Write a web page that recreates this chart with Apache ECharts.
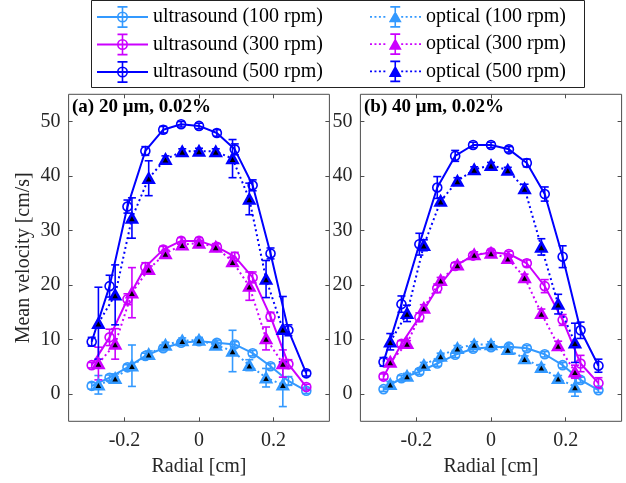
<!DOCTYPE html>
<html>
<head>
<meta charset="utf-8">
<script src="https://cdn.jsdelivr.net/npm/echarts@6/dist/echarts.min.js"></script>
<style>html,body{margin:0;padding:0;background:#fff;}#c{width:626px;height:483px;}</style>
</head>
<body>
<div id="c"></div>
<script>
// ---------- data ----------
const xUltra = [-0.288, -0.24, -0.192, -0.144, -0.096, -0.048, 0, 0.048, 0.096, 0.144, 0.192, 0.24, 0.288];
const xOpt = [-0.27, -0.225, -0.18, -0.135, -0.09, -0.045, 0, 0.045, 0.09, 0.135, 0.18, 0.225];
const xTicks = [-0.2, 0, 0.2];
const yTicks = [0, 10, 20, 30, 40, 50];
const panelTitles = ['(a) 20 μm, 0.02%', '(b) 40 μm, 0.02%'];
const seriesNames = ['ultrasound (100 rpm)', 'ultrasound (300 rpm)', 'ultrasound (500 rpm)',
                     'optical (100 rpm)', 'optical (300 rpm)', 'optical (500 rpm)'];

// panel (a)
const a_us100 = [1.5, 3.0, 4.9, 7.0, 8.4, 9.4, 9.7, 9.4, 9.1, 7.5, 5.1, 2.4, 0.6];
const a_us100Err = [0.6, 0.5, 0.5, 0.5, 0.5, 0.5, 0.5, 0.5, 0.5, 0.5, 0.5, 0.8, 0.5];
const a_us300 = [5.3, 10.4, 17.4, 23.3, 26.5, 28.1, 28.1, 27.0, 25.2, 21.4, 14.2, 5.5, 1.3];
const a_us300Err = [0.5, 1.5, 1.0, 0.8, 0.6, 0.6, 0.6, 0.6, 0.8, 1.0, 0.8, 0.8, 0.5];
const a_us500 = [9.6, 19.8, 34.4, 44.6, 48.5, 49.5, 49.2, 47.9, 44.9, 38.3, 25.8, 11.7, 3.8];
const a_us500Err = [0.8, 2.0, 1.2, 0.8, 0.6, 0.5, 0.5, 0.6, 1.0, 1.0, 1.0, 1.0, 0.5];
const a_op100 = [1.7, 2.9, 5.2, 7.3, 9.0, 9.8, 9.9, 9.0, 7.9, 5.3, 3.0, 1.7];
const a_op100Err = [1.7, 0.8, 3.8, 0.6, 0.5, 0.5, 0.5, 0.5, 3.8, 1.0, 1.7, 4.0];
const a_op300 = [5.6, 9.2, 18.6, 22.9, 25.8, 27.4, 27.7, 27.0, 24.3, 19.8, 10.2, 5.6];
const a_op300Err = [3.0, 2.8, 4.6, 0.6, 0.6, 0.5, 0.5, 0.6, 0.8, 2.6, 2.1, 2.5];
const a_op500 = [13.0, 18.2, 32.3, 39.6, 43.1, 44.5, 44.6, 44.5, 43.2, 35.8, 21.1, 11.9];
const a_op500Err = [6.6, 5.5, 3.7, 3.2, 0.6, 0.5, 0.5, 0.5, 3.5, 2.9, 3.4, 6.0];

// panel (b)
const b_us100 = [0.9, 2.9, 4.1, 5.6, 7.2, 8.3, 8.6, 8.7, 8.4, 7.3, 5.3, 2.6, 0.7];
const b_us100Err = [0.4, 0.5, 0.5, 0.5, 0.5, 0.5, 0.5, 0.5, 0.5, 0.5, 0.5, 0.5, 0.4];
const b_us300 = [3.2, 9.2, 14.1, 19.4, 23.5, 25.4, 26.0, 25.7, 24.0, 19.8, 13.6, 5.6, 2.0];
const b_us300Err = [0.5, 0.6, 0.8, 0.8, 0.6, 0.5, 0.5, 0.5, 0.6, 1.2, 1.0, 1.5, 1.0];
const b_us500 = [5.9, 16.5, 27.5, 37.9, 43.7, 45.7, 45.7, 44.9, 42.4, 36.7, 25.2, 11.7, 5.2];
const b_us500Err = [0.8, 1.5, 2.0, 2.0, 1.0, 0.5, 0.5, 0.5, 0.7, 1.3, 2.0, 1.5, 1.2];
const b_op100 = [1.8, 3.3, 5.3, 7.0, 8.4, 9.1, 9.1, 8.2, 6.5, 4.9, 2.9, 1.3];
const b_op100Err = [0.5, 0.5, 0.5, 0.5, 0.5, 0.5, 0.5, 0.5, 0.5, 0.5, 0.5, 1.7];
const b_op300 = [5.9, 9.3, 15.8, 20.9, 23.7, 25.6, 25.9, 24.9, 21.4, 14.8, 8.9, 4.1];
const b_op300Err = [0.5, 0.5, 0.6, 0.5, 0.5, 0.5, 0.5, 0.6, 0.6, 0.8, 0.8, 1.2];
const b_op500 = [9.6, 14.8, 27.3, 35.4, 39.1, 41.2, 42.0, 41.1, 37.7, 27.0, 16.5, 9.4];
const b_op500Err = [1.5, 1.5, 1.0, 0.6, 0.6, 0.5, 0.5, 0.5, 0.8, 1.5, 1.8, 3.6];

// ---------- styling ----------
const colors = ['#3399ff', '#cc00ff', '#0000ff'];
const FONT = '"Liberation Serif", "Times New Roman", serif';
const AXC = '#4d4d4d';

const panels = [
  { us: [a_us100, a_us300, a_us500], usErr: [a_us100Err, a_us300Err, a_us500Err],
    op: [a_op100, a_op300, a_op500], opErr: [a_op100Err, a_op300Err, a_op500Err] },
  { us: [b_us100, b_us300, b_us500], usErr: [b_us100Err, b_us300Err, b_us500Err],
    op: [b_op100, b_op300, b_op500], opErr: [b_op100Err, b_op300Err, b_op500Err] }
];

const grids = [
  { left: 68.6, top: 94.3, width: 260.8, height: 327 },
  { left: 360.4, top: 94.3, width: 261.2, height: 327 }
];

function errRender(color) {
  return function (params, api) {
    const x = api.value(0);
    const pLo = api.coord([x, api.value(1)]);
    const pHi = api.coord([x, api.value(2)]);
    const w = 4;
    const st = { stroke: color, lineWidth: 1.6, fill: null };
    return { type: 'group', children: [
      { type: 'line', shape: { x1: pLo[0], y1: pLo[1], x2: pHi[0], y2: pHi[1] }, style: st },
      { type: 'line', shape: { x1: pLo[0] - w, y1: pLo[1], x2: pLo[0] + w, y2: pLo[1] }, style: st },
      { type: 'line', shape: { x1: pHi[0] - w, y1: pHi[1], x2: pHi[0] + w, y2: pHi[1] }, style: st }
    ]};
  };
}

const series = [];
panels.forEach((p, gi) => {
  const ax = gi * 2;
  for (let k = 0; k < 3; k++) {
    const c = colors[k];
    series.push({
      type: 'custom', name: seriesNames[k] + ' err', xAxisIndex: ax, yAxisIndex: ax,
      renderItem: errRender(c), encode: { x: 0, y: [1, 2] }, z: 2,
      data: xUltra.map((x, i) => [x, p.us[k][i] - p.usErr[k][i], p.us[k][i] + p.usErr[k][i]]),
      silent: true, animation: false
    });
    series.push({
      type: 'line', name: seriesNames[k], xAxisIndex: ax, yAxisIndex: ax, z: 3,
      data: xUltra.map((x, i) => [x, p.us[k][i]]),
      symbol: 'circle', symbolSize: 9, showSymbol: true,
      itemStyle: { color: 'rgba(0,0,0,0)', borderColor: c, borderWidth: 1.6 },
      lineStyle: { color: c, width: 2 },
      emphasis: { disabled: true }, animation: false, silent: true
    });
  }
  for (let k = 0; k < 3; k++) {
    const c = colors[k];
    series.push({
      type: 'custom', name: seriesNames[k + 3] + ' err', xAxisIndex: ax, yAxisIndex: ax,
      renderItem: errRender(c), encode: { x: 0, y: [1, 2] }, z: 4,
      data: xOpt.map((x, i) => [x, p.op[k][i] - p.opErr[k][i], p.op[k][i] + p.opErr[k][i]]),
      silent: true, animation: false
    });
    series.push({
      type: 'line', name: seriesNames[k + 3], xAxisIndex: ax, yAxisIndex: ax, z: 5,
      data: xOpt.map((x, i) => [x, p.op[k][i]]),
      symbol: 'triangle', symbolSize: [10, 9], showSymbol: true,
      itemStyle: { color: '#000', borderColor: c, borderWidth: 2.6 },
      lineStyle: { color: c, width: 2, type: [2, 3] },
      emphasis: { disabled: true }, animation: false, silent: true
    });
  }
});

const tickCommon = { inside: true, length: 4, lineStyle: { color: AXC, width: 1 } };
const noLine = { show: false, onZero: false };
const xAxes = [], yAxes = [];
grids.forEach((g, gi) => {
  xAxes.push({
    type: 'value', gridIndex: gi, min: -0.35, max: 0.35, position: 'bottom',
    axisLine: noLine, splitLine: { show: false },
    axisTick: Object.assign({ customValues: xTicks }, tickCommon),
    axisLabel: { customValues: xTicks, color: '#262626', fontFamily: FONT, fontSize: 20, margin: 9,
                 formatter: v => String(v) },
    name: 'Radial [cm]', nameLocation: 'middle', nameGap: 35,
    nameTextStyle: { color: '#262626', fontFamily: FONT, fontSize: 20 }
  });
  xAxes.push({
    type: 'value', gridIndex: gi, min: -0.35, max: 0.35, position: 'top',
    axisLine: noLine, splitLine: { show: false },
    axisTick: Object.assign({ customValues: xTicks }, tickCommon),
    axisLabel: { show: false }
  });
  yAxes.push({
    type: 'value', gridIndex: gi, min: -5, max: 55, position: 'left',
    axisLine: noLine, splitLine: { show: false },
    axisTick: Object.assign({ customValues: yTicks }, tickCommon),
    axisLabel: { customValues: yTicks, color: '#262626', fontFamily: FONT, fontSize: 20, margin: 8 },
    name: gi === 0 ? 'Mean velocity [cm/s]' : '', nameLocation: 'middle', nameGap: 35,
    nameTextStyle: { color: '#262626', fontFamily: FONT, fontSize: 20 }
  });
  yAxes.push({
    type: 'value', gridIndex: gi, min: -5, max: 55, position: 'right',
    axisLine: noLine, splitLine: { show: false },
    axisTick: Object.assign({ customValues: yTicks }, tickCommon),
    axisLabel: { show: false }
  });
});

// legend icons (drawn in a 51 x 22 box)
function ultraIcon() {
  const cx = 25.5, cy = 11;
  return 'path://' +
    'M0 10.1H51V11.9H0Z' +
    'M' + (cx - 5.5) + ' ' + cy + 'A5.5 5.5 0 1 1 ' + (cx + 5.5) + ' ' + cy + 'A5.5 5.5 0 1 1 ' + (cx - 5.5) + ' ' + cy + 'Z' +
    'M' + (cx - 3.9) + ' ' + cy + 'A3.9 3.9 0 1 0 ' + (cx + 3.9) + ' ' + cy + 'A3.9 3.9 0 1 0 ' + (cx - 3.9) + ' ' + cy + 'Z' +
    'M' + (cx - 0.8) + ' 0H' + (cx + 0.8) + 'V22H' + (cx - 0.8) + 'Z' +
    'M' + (cx - 5) + ' 0H' + (cx + 5) + 'V1.8H' + (cx - 5) + 'Z' +
    'M' + (cx - 5) + ' 20.2H' + (cx + 5) + 'V22H' + (cx - 5) + 'Z';
}
function optIcon() {
  const cx = 25.5;
  let d = '';
  for (let x = 0; x < 51; x += 4.5) {
    if (x > cx - 8 && x < cx + 6) continue;
    d += 'M' + x + ' 10.1H' + (x + 2) + 'V11.9H' + x + 'Z';
  }
  d += 'M' + cx + ' 5L' + (cx + 6.5) + ' 16.5L' + (cx - 6.5) + ' 16.5Z';
  d += 'M' + (cx - 0.8) + ' 0H' + (cx + 0.8) + 'V22H' + (cx - 0.8) + 'Z' +
       'M' + (cx - 5) + ' 0H' + (cx + 5) + 'V1.8H' + (cx - 5) + 'Z' +
       'M' + (cx - 5) + ' 20.2H' + (cx + 5) + 'V22H' + (cx - 5) + 'Z';
  return 'path://' + d;
}

const legendText = { color: '#000', fontFamily: FONT, fontSize: 20 };
function legendData(startIdx, iconFn) {
  return [0, 1, 2].map(k => ({
    name: seriesNames[startIdx + k], icon: iconFn(),
    itemStyle: { color: colors[k], borderWidth: 0, borderColor: colors[k] }
  }));
}

const option = {
  animation: false,
  backgroundColor: '#fff',
  grid: grids.map(g => Object.assign({ show: true, borderColor: AXC, borderWidth: 1, backgroundColor: 'transparent' }, g)),
  xAxis: xAxes,
  yAxis: yAxes,
  title: panelTitles.map((t, i) => ({
    text: t, left: i === 0 ? 72 : 364, top: 98, padding: 0,
    textStyle: { color: '#000', fontFamily: FONT, fontSize: 19, fontWeight: 'bold' }
  })),
  graphic: [{
    type: 'rect', shape: { x: 91.5, y: 0.5, width: 493, height: 87 }, z: -10,
    style: { fill: '#fff', stroke: '#222', lineWidth: 1 }
  }],
  legend: [
    { data: legendData(0, ultraIcon), orient: 'vertical', left: 97, top: 6, padding: 0,
      itemWidth: 51, itemHeight: 22, itemGap: 5.5, textStyle: legendText, selectedMode: false, symbolKeepAspect: true },
    { data: legendData(3, optIcon), orient: 'vertical', left: 370, top: 6, padding: 0,
      itemWidth: 51, itemHeight: 22, itemGap: 5.5, textStyle: legendText, selectedMode: false, symbolKeepAspect: true }
  ],
  series: series
};

const chart = echarts.init(document.getElementById('c'), null, { renderer: 'canvas' });
chart.setOption(option);
</script>
</body>
</html>
